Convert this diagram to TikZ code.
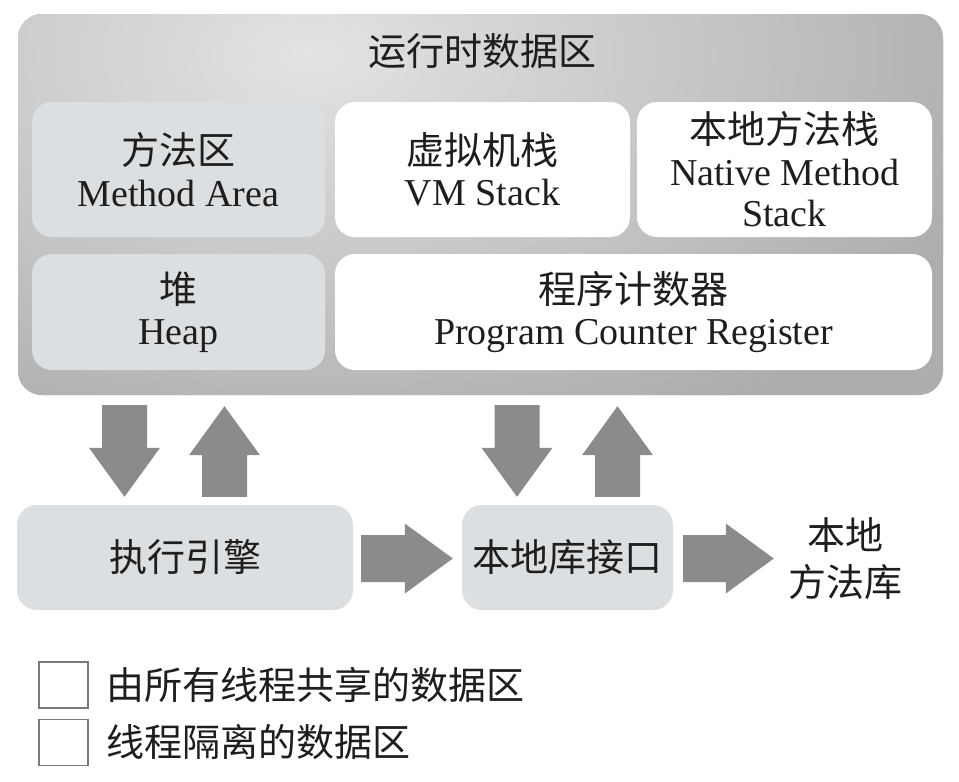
\documentclass[tikz,border=0pt]{standalone}
\usepackage{fontspec}
\setmainfont{Liberation Serif}
\newfontfamily\cjk{Noto Sans CJK SC}
\usetikzlibrary{calc}

\definecolor{inktext}{HTML}{1E1E1E}
\definecolor{rtbase}{HTML}{ABADAF}
\definecolor{rtglow}{HTML}{E2E3E4}
\definecolor{sharedfill}{HTML}{DCDFE1}
\definecolor{arrowgray}{HTML}{8A8B8C}
\definecolor{keyline}{HTML}{7A7A7A}

% vertical block arrow: #1 = shaft end, #2 = tip, #3 = signed offset from tip to head base
\newcommand\vblock[3]{%
  \fill[blockarrow] ($(#1)+(-22.5,0)$) -- ($(#1)+(22.5,0)$) -- ($(#2)+(22.5,#3)$)
    -- ($(#2)+(35.5,#3)$) -- (#2) -- ($(#2)+(-35.5,#3)$) -- ($(#2)+(-22.5,#3)$) -- cycle;}
% horizontal block arrow pointing right: #1 = shaft start, #2 = tip
\newcommand\hblock[2]{%
  \fill[blockarrow] ($(#1)+(0,-23.5)$) -- ($(#2)+(-48,-23.5)$) -- ($(#2)+(-48,-35)$)
    -- (#2) -- ($(#2)+(-48,35)$) -- ($(#2)+(-48,23.5)$) -- ($(#1)+(0,23.5)$) -- cycle;}

\begin{document}
\begin{tikzpicture}[x=1pt,y=-1pt,
  lbl/.style={font=\fontsize{38}{41.5}\selectfont, align=center, text=inktext, inner sep=0pt},
  outerbox/.style={rounded corners=24pt, fill=rtbase, inner sep=0pt,
    path picture={\shade[inner color=rtglow, outer color=rtbase]
      ([xshift=-170pt,yshift=150pt]path picture bounding box.center) ellipse (720pt and 420pt);}},
  sharedbox/.style={lbl, rounded corners=20pt, fill=sharedfill},
  privatebox/.style={lbl, rounded corners=20pt, fill=white},
  blockarrow/.style={fill=arrowgray},
  keybox/.style={draw=keyline, line width=1.2pt, fill=white, minimum width=49pt, minimum height=46pt, inner sep=0pt}]

\useasboundingbox (0,0) rectangle (959,782);
\fill[white] (0,0) rectangle (959,782);

% runtime data area
\node[outerbox, minimum width=925pt, minimum height=381pt] (rt) at (480.5,204.5) {};
\node[lbl] (rttitle) at (482,51) {\cjk 运行时数据区};

\node[sharedbox, minimum width=293pt, minimum height=135pt] (method) at (178.5,169.5)
  {{\cjk 方法区}\\Method Area};
\node[privatebox, minimum width=295pt, minimum height=135pt] (vmstack) at (482.5,169.5)
  {{\cjk 虚拟机栈}\\VM Stack};
\node[privatebox, minimum width=295pt, minimum height=135pt] (nstack) at (784.5,169.5)
  {{\cjk 本地方法栈}\\Native Method\\Stack};
\node[sharedbox, minimum width=293pt, minimum height=116pt] (heap) at (178.5,312)
  {{\cjk 堆}\\Heap};
\node[privatebox, minimum width=597pt, minimum height=116pt] (pc) at (633.5,312)
  {{\cjk 程序计数器}\\Program Counter Register};

% execution side
\node[sharedbox, minimum width=336pt, minimum height=105pt] (exec) at (185,557.5) {\cjk 执行引擎};
\node[sharedbox, minimum width=211pt, minimum height=105pt] (jni) at (567.5,557.5) {\cjk 本地库接口};
\node[lbl, font=\fontsize{38}{47}\selectfont] (lib) at (845,558.5) {\cjk 本地\\\cjk 方法库};

% data flow between the areas
\coordinate (c1) at (124.5,0);
\coordinate (c2) at (224.5,0);
\coordinate (c3) at (517,0);
\coordinate (c4) at (617.5,0);

\path ($(rt.south -| c1)+(0,10)$) coordinate (a1s) ($(exec.north -| c1)+(0,-8)$) coordinate (a1t);
\path ($(exec.north -| c2)+(0,-8)$) coordinate (a2s) ($(rt.south -| c2)+(0,11)$) coordinate (a2t);
\path ($(rt.south -| c3)+(0,10)$) coordinate (a3s) ($(jni.north -| c3)+(0,-8)$) coordinate (a3t);
\path ($(jni.north -| c4)+(0,-8)$) coordinate (a4s) ($(rt.south -| c4)+(0,11)$) coordinate (a4t);
\path ($(exec.east)+(8,1)$) coordinate (a5s) ($(jni.west)+(-9,1)$) coordinate (a5t);
\path ($(jni.east)+(10,1)$) coordinate (a6s) ($(lib.west)+(-14,0)$) coordinate (a6t);

\vblock{a1s}{a1t}{-49}
\vblock{a2s}{a2t}{49}
\vblock{a3s}{a3t}{-49}
\vblock{a4s}{a4t}{49}
\hblock{a5s}{a5t}
\hblock{a6s}{a6t}

% key
\node[keybox] (key1) at (63.5,685) {};
\node[lbl, anchor=west] (key1txt) at (106,685) {\cjk 由所有线程共享的数据区};
\node[keybox] (key2) at (63.5,742.5) {};
\node[lbl, anchor=west] (key2txt) at (106,742) {\cjk 线程隔离的数据区};
\end{tikzpicture}
\end{document}
